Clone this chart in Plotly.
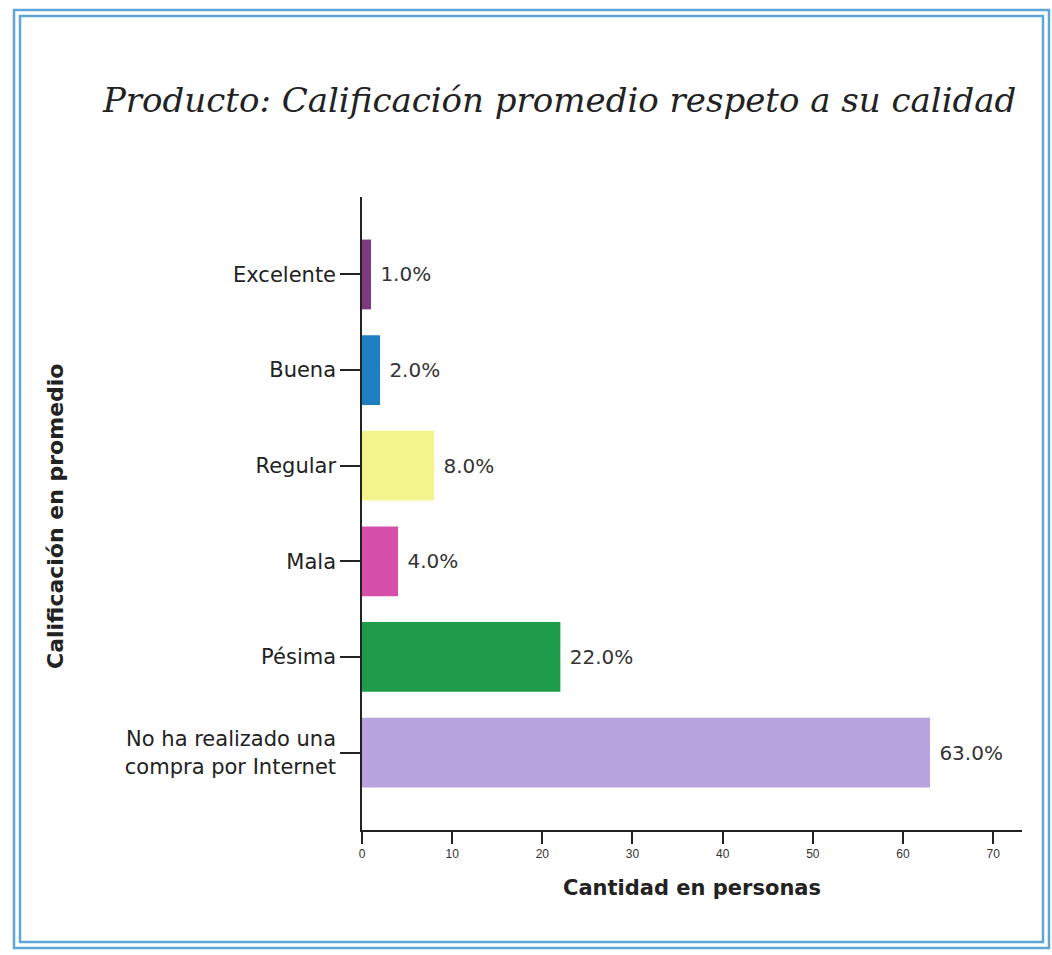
import plotly.graph_objects as go

# Survey data: average product quality rating
categorias = [
    "Excelente",
    "Buena",
    "Regular",
    "Mala",
    "Pésima",
    "No ha realizado una<br>compra por Internet",
]
personas = [1, 2, 8, 4, 22, 63]
etiquetas = ["1.0%", "2.0%", "8.0%", "4.0%", "22.0%", "63.0%"]
colores = ["#7E3A80", "#1F7DC1", "#F4F48C", "#D64FA8", "#1E9C4C", "#B7A3DE"]
ticks_x = [0, 10, 20, 30, 40, 50, 60, 70]

W, H = 1052, 955
ML, MR, MT, MB = 362, 30, 197, 125
PW, PH = W - ML - MR, H - MT - MB

GEO = "DejaVu Sans, Verdana, sans-serif"


def px(x):
    return (x - ML) / PW


def py(y):
    return (H - MB - y) / PH


fig = go.Figure(
    go.Bar(
        x=personas,
        y=categorias,
        orientation="h",
        marker=dict(color=colores, line=dict(width=0)),
        width=0.73,
        text=etiquetas,
        texttemplate=" %{text}",
        textposition="outside",
        cliponaxis=False,
        textfont=dict(family=GEO, size=20, color="#333333"),
    )
)

border = "#5FA6D8"
shapes = []
for (x0, y0, x1, y1) in [(14, 10, 1049, 948), (20, 16, 1043, 942)]:
    shapes.append(
        dict(
            type="rect", xref="paper", yref="paper",
            x0=px(x0), x1=px(x1), y0=py(y1), y1=py(y0),
            line=dict(color=border, width=2.5),
        )
    )

fig.update_layout(
    width=W,
    height=H,
    margin=dict(l=ML, r=MR, t=MT, b=MB),
    paper_bgcolor="white",
    plot_bgcolor="white",
    showlegend=False,
    shapes=shapes,
    title=dict(
        text="<i>Producto: Calificación promedio respeto a su calidad</i>",
        x=0.532,
        xanchor="center",
        y=1 - 100 / H,
        yanchor="middle",
        font=dict(family="DejaVu Serif, serif", size=34, color="#222222"),
    ),
    annotations=[
        dict(
            text="<b>Calificación en promedio</b>",
            xref="paper", yref="paper",
            x=px(55), y=py(516),
            xanchor="center", yanchor="middle",
            textangle=-90,
            showarrow=False,
            font=dict(family=GEO, size=22, color="#222222"),
        )
    ],
    xaxis=dict(
        range=[0, 73.2],
        tickvals=ticks_x,
        ticks="outside",
        ticklen=12,
        tickwidth=1.5,
        tickcolor="#222222",
        showline=True,
        linecolor="#222222",
        linewidth=1.5,
        showgrid=False,
        zeroline=False,
        tickfont=dict(family="Liberation Sans Narrow, Liberation Sans, sans-serif", size=12, color="#333333"),
        title=dict(
            text="<b>Cantidad en personas</b>",
            font=dict(family=GEO, size=21, color="#222222"),
            standoff=20,
        ),
    ),
    yaxis=dict(
        autorange=False,
        range=[5.81, -0.81],
        ticks="outside",
        ticklen=20,
        tickwidth=1.5,
        tickcolor="#222222",
        showline=True,
        linecolor="#222222",
        linewidth=1.5,
        showgrid=False,
        tickfont=dict(family=GEO, size=21, color="#222222"),
    ),
)

fig.write_html("out.html")
